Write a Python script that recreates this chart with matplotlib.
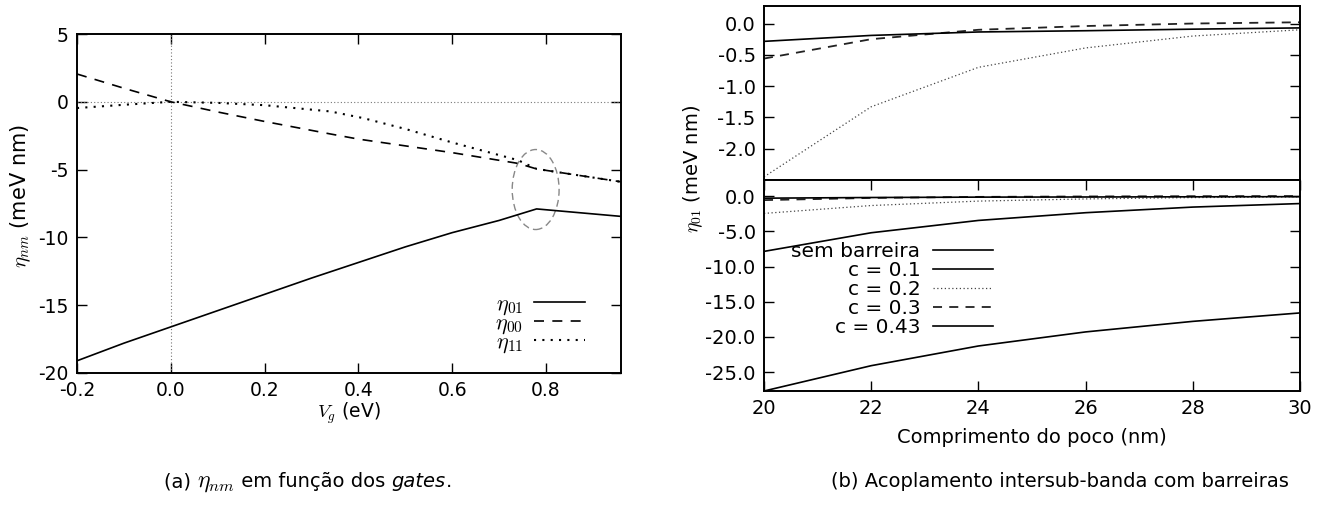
import matplotlib
matplotlib.use("Agg")
import matplotlib.pyplot as plt
from matplotlib.patches import Ellipse

plt.rcParams['font.family'] = ['DejaVu Sans']
plt.rcParams['mathtext.fontset'] = 'cm'
plt.rcParams['axes.unicode_minus'] = False

# ---- Data: panel (a) ----
vg = [-0.2, -0.1, 0.0, 0.1, 0.2, 0.3, 0.4, 0.5, 0.6, 0.7, 0.78, 0.96]
eta01 = [-19.1, -17.8, -16.6, -15.4, -14.2, -13.0, -11.85, -10.7, -9.65, -8.75, -7.9, -8.45]
vg00 = [-0.2, -0.1, 0.0, 0.1, 0.2, 0.34, 0.4, 0.6, 0.74, 0.78, 0.96]
eta00 = [2.05, 1.0, 0.0, -0.75, -1.45, -2.37, -2.75, -3.75, -4.54, -4.95, -5.9]
vg11 = [-0.2, -0.1, 0.0, 0.1, 0.2, 0.34, 0.41, 0.5, 0.6, 0.74, 0.78, 0.96]
eta11 = [-0.46, -0.22, 0.0, -0.08, -0.25, -0.71, -1.2, -2.0, -3.0, -4.3, -4.95, -5.9]
xticks_a = [-0.2, 0.0, 0.2, 0.4, 0.6, 0.8]
yticks_a = [5, 0, -5, -10, -15, -20]
legend_a = [r'$\eta_{01}$', r'$\eta_{00}$', r'$\eta_{11}$']

# ---- Data: panel (b) ----
L = [20, 22, 24, 26, 28, 30]
sem_barreira = [-27.7, -24.1, -21.3, -19.3, -17.8, -16.6]
c01 = [-7.85, -5.2, -3.45, -2.35, -1.55, -1.05]
c02 = [-2.45, -1.33, -0.70, -0.39, -0.20, -0.10]
c03 = [-0.56, -0.25, -0.10, -0.04, 0.0, 0.02]
c043 = [-0.285, -0.19, -0.135, -0.115, -0.09, -0.07]
labels_b = ['sem barreira', 'c = 0.1', 'c = 0.2', 'c = 0.3', 'c = 0.43']
xticks_b = [20, 22, 24, 26, 28, 30]
yticks_top = [0.0, -0.5, -1.0, -1.5, -2.0]
yticks_bot = [0.0, -5.0, -10.0, -15.0, -20.0, -25.0]

W, H = 1333, 512
fig = plt.figure(figsize=(W / 100, H / 100), dpi=100)

def frac_box(l, r, t, b):
    return [l / W, 1 - b / H, (r - l) / W, (b - t) / H]

TS = 13.5
def style(ax):
    ax.tick_params(direction='in', length=7.5, width=1.0, labelsize=TS,
                   top=True, right=True, pad=6)
    for s in ax.spines.values():
        s.set_linewidth(1.4)

# ---------- Panel (a) ----------
ax = fig.add_axes(frac_box(77, 621, 34, 373))
ax.axvline(0, color='#777777', lw=0.8, ls=(0, (1, 2)))
ax.axhline(0, color='#777777', lw=0.8, ls=(0, (1, 2)))
l1, = ax.plot(vg, eta01, color='black', lw=1.2)
l2, = ax.plot(vg00, eta00, color='black', lw=1.2, dashes=(6, 5))
l3, = ax.plot(vg11, eta11, color='black', lw=1.5, dashes=(1, 3))
ax.add_patch(Ellipse((0.778, -6.47), 0.10, 5.9, fill=False, edgecolor='#888888',
                     lw=1.0, ls=(0, (5, 3))))
ax.set_xlim(-0.2, 0.96)
ax.set_ylim(-20, 5)
ax.set_xticks(xticks_a)
ax.set_xticklabels([f'{v:.1f}' for v in xticks_a])
ax.set_yticks(yticks_a)
ax.set_yticklabels([f'{v:d}' for v in yticks_a])
style(ax)
ax.legend([l1, l2, l3], legend_a, loc='lower right', bbox_to_anchor=(0.955, 0.02),
          frameon=False, markerfirst=False, fontsize=16, handlelength=2.3,
          labelspacing=-0.2, handletextpad=0.5, borderpad=0)
ax.set_xlabel(r'$V_g$ (eV)', fontsize=TS, labelpad=0)
fig.text(21 / W, 1 - 196 / H, r'$\eta_{nm}$ (meV nm)', rotation=90,
         ha='center', va='center', fontsize=15)

# ---------- Panel (b) ----------
axt = fig.add_axes(frac_box(764, 1300, 6, 180))
axb = fig.add_axes(frac_box(764, 1300, 180, 391))

dot_kw = dict(color='#444444', lw=0.9, dashes=(1, 2))
dash_kw = dict(color='#222222', lw=1.3, dashes=(5, 4))

axt.plot(L, c02, **dot_kw)
axt.plot(L, c03, **dash_kw)
axt.plot(L, c043, color='black', lw=1.2)
axt.set_xlim(20, 30)
axt.set_ylim(-2.5, 0.28)
axt.set_yticks(yticks_top)
axt.set_yticklabels([f'{v:.1f}' for v in yticks_top])
axt.set_xticks([])
style(axt)
axt.tick_params(axis='y', labelsize=TS + 0.5)

h1, = axb.plot(L, sem_barreira, color='black', lw=1.2)
h2, = axb.plot(L, c01, color='black', lw=1.2)
h3, = axb.plot(L, c02, **dot_kw)
h4, = axb.plot(L, c03, **dash_kw)
h5, = axb.plot(L, c043, color='black', lw=1.2)
axb.set_xlim(20, 30)
axb.set_ylim(-27.7, 2.3)
axb.set_xticks(xticks_b)
axb.set_yticks(yticks_bot)
axb.set_yticklabels([f'{v:.1f}' for v in yticks_bot])
style(axb)
axb.tick_params(axis='both', labelsize=TS + 0.5)
axb.legend([h1, h2, h3, h4, h5], labels_b, loc='upper right',
           bbox_to_anchor=(0.446, 0.755), frameon=False, markerfirst=False,
           fontsize=14.5, handlelength=3.0, labelspacing=0.0, handletextpad=0.6,
           borderpad=0)
axb.set_xlabel('Comprimento do poco (nm)', fontsize=TS + 0.5, labelpad=7)
fig.text(693 / W, 1 - 169 / H, r'$\eta_{01}$ (meV nm)', rotation=90,
         ha='center', va='center', fontsize=TS + 0.5)

# ---------- Captions ----------
def text_row(xc, yc, pieces):
    """Place a row of text pieces side by side, centred at (xc, yc) in pixels."""
    fig.canvas.draw()
    r = fig.canvas.get_renderer()
    objs = []
    for s, kw in pieces:
        t = fig.text(0, 1 - yc / H, s, ha='left', va='baseline', **kw)
        objs.append(t)
    widths = [t.get_window_extent(renderer=r).width for t in objs]
    x = xc - sum(widths) / 2
    for t, w in zip(objs, widths):
        t.set_x(x / W)
        x += w

CS = 14
text_row(308, 487, [('(a) ', dict(fontsize=CS)),
                    (r'$\eta_{nm}$', dict(fontsize=CS + 3)),
                    (' em função dos ', dict(fontsize=CS)),
                    ('gates', dict(fontsize=CS, style='italic')),
                    ('.', dict(fontsize=CS))])
fig.text(1060 / W, 1 - 487 / H, '(b) Acoplamento intersub-banda com barreiras',
         ha='center', va='baseline', fontsize=CS)

fig.savefig('out.png', dpi=100)
